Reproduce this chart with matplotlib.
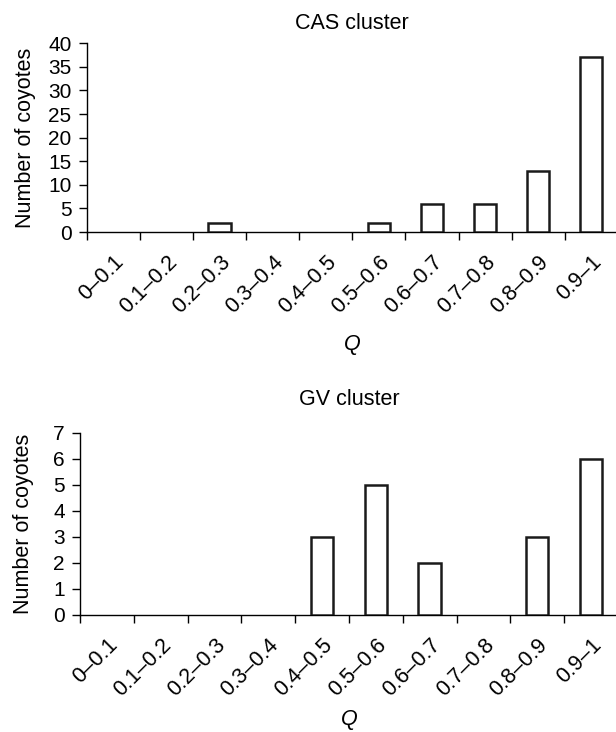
import numpy as np
import matplotlib.pyplot as plt

plt.rcParams['font.family'] = ['Liberation Sans', 'DejaVu Sans']

# Categories Q
categories = ['0–0.1', '0.1–0.2', '0.2–0.3', '0.3–0.4', '0.4–0.5',
              '0.5–0.6', '0.6–0.7', '0.7–0.8', '0.8–0.9', '0.9–1']
cas_counts = [0, 0, 2, 0, 0, 2, 6, 6, 13, 37]
gv_counts = [0, 0, 0, 0, 3, 5, 2, 0, 3, 6]

fig = plt.figure(figsize=(6.16, 7.32), dpi=100)
ax1 = fig.add_axes([0.141, 0.683, 0.862, 0.258])
ax2 = fig.add_axes([0.130, 0.160, 0.873, 0.249])

FS = 15.5

def draw(ax, counts, title, ymax, ystep, tpad, qpad, ypad):
    x = np.arange(len(categories))
    # empty bins get no outline
    edges = ['#1a1a1a' if c > 0 else 'none' for c in counts]
    ax.bar(x, counts, width=0.42, facecolor='white', edgecolor=edges,
           linewidth=1.8, zorder=3)
    ax.set_xlim(-0.5, len(categories) - 0.5)
    ax.set_ylim(0, ymax)
    ax.set_yticks(np.arange(0, ymax + 1, ystep))
    ax.spines['top'].set_visible(False)
    ax.spines['right'].set_visible(False)
    ax.spines['left'].set_linewidth(1.0)
    ax.spines['bottom'].set_linewidth(1.0)
    # ticks at the bin boundaries, labels at bin centres
    ax.set_xticks(np.arange(len(categories)) - 0.5)
    ax.set_xticklabels([])
    ax.set_xticks(x, minor=True)
    ax.set_xticklabels(categories, minor=True, rotation=45, ha='right',
                       rotation_mode='anchor', fontsize=15.5)
    ax.tick_params(axis='x', which='major', length=6, width=1.0, direction='out')
    ax.tick_params(axis='x', which='minor', length=0, pad=14)
    ax.tick_params(axis='y', length=6, width=1.0, labelsize=15, pad=5)
    ax.set_ylabel('Number of coyotes', fontsize=FS, labelpad=ypad)
    ax.set_xlabel('Q', fontsize=FS, style='italic', labelpad=qpad)
    ax.set_title(title, fontsize=FS, pad=tpad)

draw(ax1, cas_counts, 'CAS cluster', 40, 5, 10, 12, 9)
draw(ax2, gv_counts, 'GV cluster', 7, 1, 20, 6, 14)

plt.savefig('out.png', dpi=100)
